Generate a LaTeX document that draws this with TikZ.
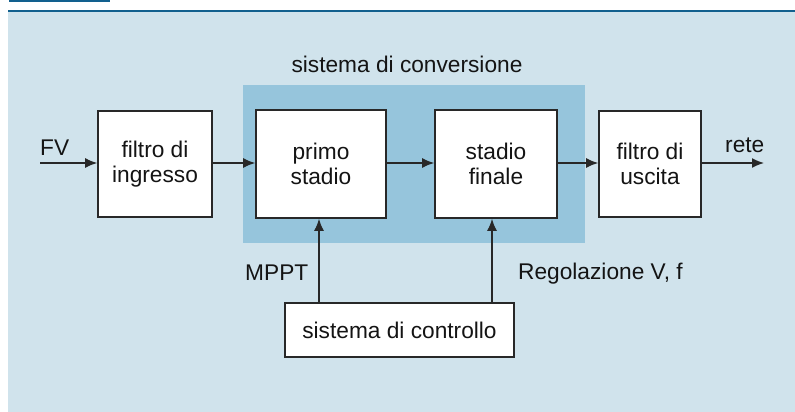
\documentclass[tikz,border=0pt]{standalone}
\usepackage{fontspec}
\setmainfont{Liberation Sans}
\usetikzlibrary{arrows.meta}
\definecolor{panel}{RGB}{208,227,236}
\definecolor{convbg}{RGB}{150,197,220}
\definecolor{topblue}{RGB}{18,96,142}
\definecolor{edge}{RGB}{40,40,40}
\definecolor{ink}{RGB}{20,20,20}
\tikzset{
  blk/.style={draw=edge, line width=1.6pt, fill=white, align=center, inner sep=0pt,
    font=\fontsize{22.7}{25.5}\selectfont, text=ink},
  lbl/.style={font=\fontsize{22.7}{25.5}\selectfont, text=ink, inner sep=0pt},
  conn/.style={draw=edge, line width=1.5pt, -{Latex[length=12pt,width=10pt]}}
}
\begin{document}
\begin{tikzpicture}[x=1pt,y=-1pt]
\useasboundingbox (0,0) rectangle (795,412);
\fill[white] (0,0) rectangle (795,412);
\fill[topblue] (9,0) rectangle (110,2.5);
\fill[panel] (8,11) rectangle (795,412);
\fill[topblue] (8,10) rectangle (795,12.5);
\fill[convbg] (243,85) rectangle (585,243);
\node[lbl, anchor=base] (convlbl) at (407,73) {sistema di conversione};
\node[blk, minimum width=114pt, minimum height=106pt] (fi) at (155,164) {filtro di\\ingresso};
\node[blk, minimum width=130pt, minimum height=108pt] (ps) at (321,164) {primo\\stadio};
\node[blk, minimum width=122pt, minimum height=108pt] (sf) at (496,164) {stadio\\finale};
\node[blk, minimum width=102pt, minimum height=106pt] (fu) at (650,164) {filtro di\\uscita};
\node[blk, minimum width=229pt, minimum height=54pt] (sc) at (399.5,330) {sistema di controllo};
\coordinate (in) at (40,163);
\coordinate (out) at (764,163);
\node[lbl, anchor=base west] (fv) at (40,155) {FV};
\node[lbl, anchor=base west] (rete) at (725,152) {rete};
\node[lbl, anchor=base west] (mppt) at (245,280) {MPPT};
\node[lbl, anchor=base west] (reg) at (518,279) {Regolazione V, f};
\draw[conn] (in) -- (in -| fi.west);
\draw[conn] (fi.east |- in) -- (ps.west |- in);
\draw[conn] (ps.east |- in) -- (sf.west |- in);
\draw[conn] (sf.east |- in) -- (fu.west |- in);
\draw[conn] (fu.east |- in) -- (out);
\draw[conn] ([xshift=-2pt]sc.north -| ps) -- ([xshift=-2pt]ps.south);
\draw[conn] ([xshift=-4pt]sc.north -| sf) -- ([xshift=-4pt]sf.south);
\end{tikzpicture}
\end{document}
